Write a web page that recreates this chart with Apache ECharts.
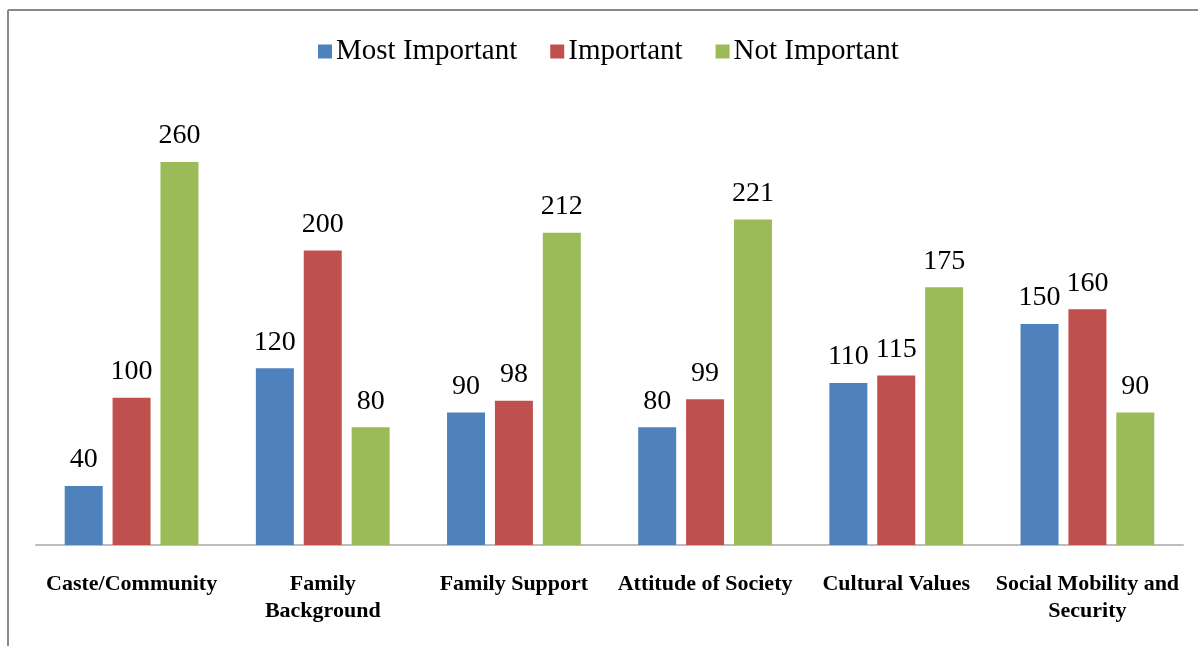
<!DOCTYPE html>
<html>
<head>
<meta charset="utf-8">
<style>
  html, body { margin: 0; padding: 0; background: #ffffff; }
  #chart { width: 1198px; height: 646px; }
</style>
<script src="https://cdn.jsdelivr.net/npm/echarts@6/dist/echarts.min.js"></script>
</head>
<body>
<div id="chart"></div>
<script>
// Factors and how respondents rated them
const categories = [
  'Caste/Community',
  'Family\nBackground',
  'Family Support',
  'Attitude of Society',
  'Cultural Values',
  'Social Mobility and\nSecurity'
];
const seriesNames = ['Most Important', 'Important', 'Not Important'];
const mostImportant = [40, 120, 90, 80, 110, 150];
const important = [100, 200, 98, 99, 115, 160];
const notImportant = [260, 80, 212, 221, 175, 90];

const colors = ['#4f81bd', '#c0504d', '#9bbb59'];
const serif = '"Liberation Serif", "DejaVu Serif", serif';

const chart = echarts.init(document.getElementById('chart'), null, { renderer: 'canvas' });

function barSeries(name, data, color) {
  return {
    name: name,
    type: 'bar',
    data: data,
    barWidth: 38,
    barGap: '26%',
    itemStyle: { color: color },
    label: {
      show: true,
      position: 'top',
      distance: 12,
      color: '#000',
      fontFamily: serif,
      fontSize: 28
    }
  };
}

chart.setOption({
  animation: false,
  color: colors,
  legend: {
    data: seriesNames,
    top: 32,
    left: 313,
    icon: 'rect',
    itemWidth: 14,
    itemHeight: 14,
    itemGap: 33,
    textStyle: { color: '#000', fontFamily: serif, fontSize: 29, padding: [0, 0, 0, -1] }
  },
  grid: { left: 36, right: 15, top: 162, bottom: 101 },
  xAxis: {
    type: 'category',
    data: categories,
    axisLine: { lineStyle: { color: '#bdbdbd', width: 2 } },
    axisTick: { show: false },
    axisLabel: {
      interval: 0,
      margin: 26,
      color: '#000',
      fontFamily: serif,
      fontSize: 22,
      fontWeight: 'bold',
      lineHeight: 27
    }
  },
  yAxis: {
    type: 'value',
    min: 0,
    max: 260,
    show: false,
    splitLine: { show: false }
  },
  graphic: [
    { type: 'line', shape: { x1: 8, y1: 10, x2: 8, y2: 646 }, style: { stroke: '#8a8a8a', lineWidth: 2 } },
    { type: 'line', shape: { x1: 8, y1: 10, x2: 1198, y2: 10 }, style: { stroke: '#8a8a8a', lineWidth: 2 } }
  ],
  series: [
    barSeries(seriesNames[0], mostImportant, colors[0]),
    barSeries(seriesNames[1], important, colors[1]),
    barSeries(seriesNames[2], notImportant, colors[2])
  ]
});
</script>
</body>
</html>
